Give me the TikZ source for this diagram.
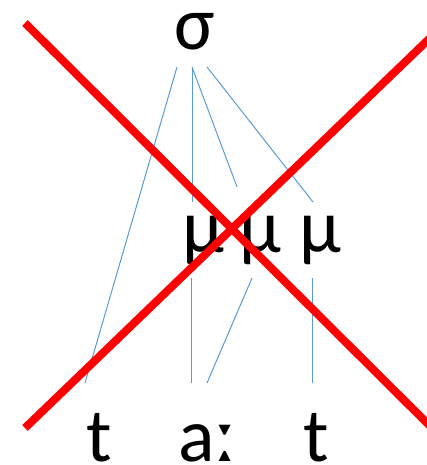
\documentclass[tikz,border=0pt]{standalone}
\usepackage{fontspec}
\setmainfont{Carlito}
\definecolor{tree}{HTML}{5B9BD5}
\begin{document}
\begin{tikzpicture}[x=1pt,y=-1pt,
  seg/.style={font=\fontsize{76}{76}\selectfont, inner sep=0pt, anchor=base},
  branch/.style={draw=tree, line width=1pt},
  cross/.style={draw=red, line width=8pt, line cap=butt}]
\useasboundingbox (0,0) rectangle (426,465);
% text
\node[seg] (sigma) at (195,50) {σ};
\node[seg] (mu1) at (203.5,252) {μ};
\node[seg] (mu2) at (260,252) {μ};
\node[seg] (mu3) at (320,252) {μ};
\node[seg] (t1) at (99,461) {t};
\node[seg] (a) at (207,461) {aː};
\node[seg] (t2) at (316,461) {t};
% branch end points
\coordinate (s1) at (177,67);
\coordinate (s2) at (192,67);
\coordinate (s3) at (207,67);
\coordinate (m1top) at (192,202);
\coordinate (m2top) at (237,187);
\coordinate (m3top) at (313,202);
\coordinate (m1bot) at (191,278);
\coordinate (m2bot) at (252,278);
\coordinate (m3bot) at (312,278);
\coordinate (tt1) at (85,383);
\coordinate (ta1) at (191,383);
\coordinate (ta2) at (207,383);
\coordinate (tt2) at (312,383);
\draw[branch] (s1) -- (tt1);
\draw[branch] (s2) -- (m1top);
\draw[branch] (s2) -- (m2top);
\draw[branch] (s3) -- (m3top);
\draw[branch] (m1bot) -- (ta1);
\draw[branch] (m2bot) -- (ta2);
\draw[branch] (m3bot) -- (tt2);
% red cross
\coordinate (xa) at (25,23);
\coordinate (xb) at (430,426);
\coordinate (xc) at (25,428);
\coordinate (xd) at (430,38);
\draw[cross] (xa) -- (xb);
\draw[cross] (xc) -- (xd);
\end{tikzpicture}
\end{document}
